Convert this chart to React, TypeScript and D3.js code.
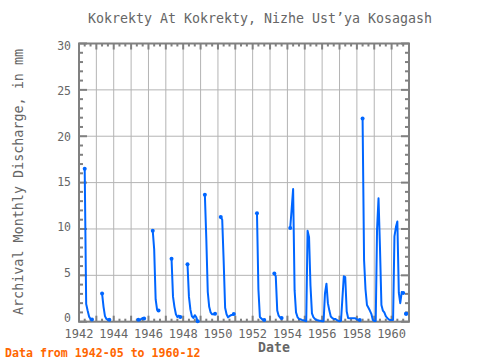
import React from "react";
import * as d3 from "d3";

const chartTitle = "Kokrekty At Kokrekty, Nizhe Ust’ya Kosagash";
const yAxisTitle = "Archival Monthly Discharge, in mm";
const xAxisTitle = "Date";
const rangeNote = "Data from 1942-05 to 1960-12";

// contiguous monthly runs: start month and the values that follow month by month
const segmentStarts = [
  "1942-05", "1943-05", "1945-06", "1946-04", "1947-05", "1948-04",
  "1949-04", "1950-03", "1952-04", "1953-04", "1954-03", "1958-05", "1960-11",
];
const segmentValues: number[][] = [
  [16.5, 1.9, 1.2, 0.55, 0.3, 0.25],
  [3.05, 1.6, 0.6, 0.3, 0.2, 0.2],
  [0.2, 0.15, 0.3, 0.4, 0.35],
  [9.8, 7.8, 2.4, 1.3, 1.2],
  [6.8, 2.7, 1.6, 0.8, 0.5, 0.65, 0.5],
  [6.2, 2.7, 1.3, 0.6, 0.4, 0.7, 0.5, 0.05],
  [13.7, 9.0, 3.2, 1.6, 1.0, 0.8, 0.8, 0.85],
  [11.3, 11.0, 6.6, 1.5, 0.8, 0.47, 0.6, 0.7, 0.75, 0.83],
  [11.7, 3.5, 0.5, 0.35, 0.2, 0.18],
  [5.2, 4.9, 1.2, 0.65, 0.45, 0.4],
  [
    10.1, 12.2, 14.3, 3.4, 1.0, 0.5, 0.3, 0.26, 0.2, 0.15,
    0.1, 0.05, 9.8, 9.1, 3.9, 0.9, 0.5, 0.3, 0.2, 0.15, 0.1, 0.1,
    0.05, 0.05, 3.05, 4.1, 2.0, 1.2, 0.55, 0.4, 0.3, 0.3, 0.2, 0.1,
    0.05, 0.1, 2.4, 4.9, 4.8, 1.1, 0.4, 0.36, 0.36, 0.36, 0.36, 0.36,
    0.26, 0.18, 0.18,
  ],
  [
    21.9, 6.65, 3.5, 1.8, 1.5, 1.2, 0.85, 0.2,
    0.08, 0.08, 9.9, 13.3, 8.1, 1.8, 1.2, 1.0, 0.6, 0.4, 0.25, 0.18,
    0.18, 0.18, 9.2, 10.2, 10.8, 3.1, 2.0, 3.2, 3.1,
  ],
  [0.85],
];

const yTickValues = [0, 5, 10, 15, 20, 25, 30];
const xLabelYears = [1942, 1944, 1946, 1948, 1950, 1952, 1954, 1956, 1958, 1960];

const FONT = "'DejaVu Sans Mono', 'Liberation Mono', monospace";

export default function App() {
  const W = 480, H = 360;
  const left = 79, right = 409, top = 43.5, bottom = 321.7;
  const t0 = new Date(1942, 0, 1);
  const t1 = new Date(1961, 0, 1);
  const x = d3.scaleTime().domain([t0, t1]).range([left, right]);
  const y = d3.scaleLinear().domain([0, 30]).range([bottom, top]);
  const labelY = d3.scaleLinear().domain([0, 30]).range([318, 46]);
  const parse = d3.timeParse("%Y-%m");

  const segments = segmentStarts.map((s, i) =>
    segmentValues[i].map((v, j) => ({ date: d3.timeMonth.offset(parse(s) as Date, j), value: v }))
  );
  const line = d3
    .line<{ date: Date; value: number }>()
    .x((d) => x(d.date))
    .y((d) => y(d.value));

  const yearTicks = d3.timeYear.range(t0, d3.timeDay.offset(t1, 1));
  const minorX = d3.timeMonth.every(4)!.range(t0, t1);
  const minorY = d3.range(0, 31);
  const gridYears = yearTicks.filter((d) => d > t0 && d < t1);
  const frameColor = "#808080";
  const textColor = "#666666";
  const blue = "#0066ff";

  return (
    <svg
      width={W}
      height={H}
      style={{ position: "absolute", left: 0, top: 0, background: "#fff" }}
      fontFamily={FONT}
    >
      <rect x={0} y={0} width={W} height={H} fill="#fff" />
      <text x={260} y={18} textAnchor="middle" dominantBaseline="central" fontSize={13.3} fill={textColor}>
        {chartTitle}
      </text>

      {/* grid */}
      {gridYears.map((d, i) => (
        <line key={"gx" + i} x1={x(d)} x2={x(d)} y1={top} y2={bottom} stroke="#b4b4b4" strokeWidth={1} />
      ))}
      {yTickValues.filter((v) => v > 0 && v < 30).map((v) => (
        <line key={"gy" + v} x1={left} x2={right} y1={y(v)} y2={y(v)} stroke="#b4b4b4" strokeWidth={1} />
      ))}

      {/* frame */}
      <rect x={left} y={top} width={right - left} height={bottom - top} fill="none" stroke={frameColor} strokeWidth={2} />

      {/* y ticks */}
      {minorY.map((v) => {
        const len = v % 5 === 0 ? 8 : 4;
        return (
          <g key={"ty" + v}>
            <line x1={left} x2={left + len} y1={y(v)} y2={y(v)} stroke={frameColor} strokeWidth={2} />
            <line x1={right} x2={right - len} y1={y(v)} y2={y(v)} stroke={frameColor} strokeWidth={2} />
          </g>
        );
      })}
      {/* x ticks */}
      {minorX.map((d, i) => {
        const len = d.getMonth() === 0 ? 6 : 3;
        return (
          <g key={"tx" + i}>
            <line x1={x(d)} x2={x(d)} y1={top} y2={top + len} stroke={frameColor} strokeWidth={2} />
            <line x1={x(d)} x2={x(d)} y1={bottom} y2={bottom - len} stroke={frameColor} strokeWidth={2} />
          </g>
        );
      })}

      {/* tick labels */}
      {yTickValues.map((v) => (
        <text key={"ly" + v} x={71} y={labelY(v)} textAnchor="end" dominantBaseline="central" fontSize={11.5} fill={textColor}>
          {v}
        </text>
      ))}
      {xLabelYears.map((yr) => (
        <text
          key={"lx" + yr}
          x={x(new Date(yr, 0, 1))}
          y={333.5}
          textAnchor="middle"
          dominantBaseline="central"
          fontSize={12}
          fill={textColor}
        >
          {yr}
        </text>
      ))}

      {/* data */}
      {segments.map((seg, i) => (
        <g key={"s" + i}>
          {seg.length > 1 && (
            <path d={line(seg) || ""} fill="none" stroke={blue} strokeWidth={2} strokeLinejoin="round" />
          )}
          <circle cx={x(seg[0].date)} cy={y(seg[0].value)} r={2} fill={blue} />
          <circle cx={x(seg[seg.length - 1].date)} cy={y(seg[seg.length - 1].value)} r={2} fill={blue} />
        </g>
      ))}

      {/* axis titles */}
      <text x={274} y={347.5} textAnchor="middle" dominantBaseline="central" fontSize={13.2} fontWeight="bold" fill={textColor}>
        {xAxisTitle}
      </text>
      <text
        transform={`translate(18,182) rotate(-90)`}
        textAnchor="middle"
        dominantBaseline="central"
        fontSize={13.4}
        fill={textColor}
      >
        {yAxisTitle}
      </text>
      <text x={5} y={352.5} dominantBaseline="central" fontSize={11.6} fontWeight="bold" fill="#ff6600">
        {rangeNote}
      </text>
    </svg>
  );
}
